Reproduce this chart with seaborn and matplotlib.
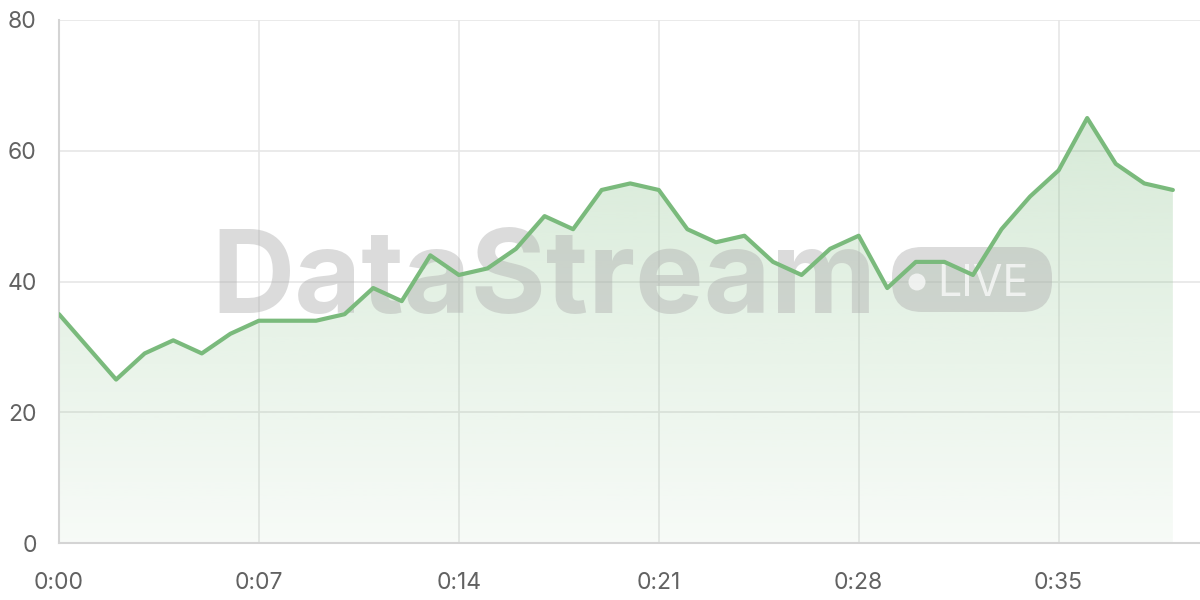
import numpy as np
import pandas as pd
import matplotlib
matplotlib.use("Agg")
import matplotlib.pyplot as plt
import seaborn as sns
from matplotlib.patches import FancyBboxPatch, Circle
from matplotlib.colors import to_rgb
from matplotlib.transforms import Affine2D

# данные: одна точка в минуту
minutes = list(range(40))
values = [35, 30, 25, 29, 31, 29, 32, 34, 34, 34,
          35, 39, 37, 44, 41, 42, 45, 50, 48, 54,
          55, 54, 48, 46, 47, 43, 41, 45, 47, 39,
          43, 43, 41, 48, 53, 57, 65, 58, 55, 54]
tick_pos = [0, 7, 14, 21, 28, 35]
tick_labels = ["0:00", "0:07", "0:14", "0:21", "0:28", "0:35"]
y_ticks = [0, 20, 40, 60, 80]

df = pd.DataFrame({"minute": minutes, "value": values})

sns.set_style("white")
plt.rcParams["font.family"] = ["Inter", "DejaVu Sans"]

line_color = "#7aba7c"
grid_color = "#e6e6e6"
text_color = "#626262"

fig = plt.figure(figsize=(12, 6), dpi=100)
ax = fig.add_axes([59 / 1200, 1 - 543 / 600, 1 - 59 / 1200, 523 / 600])

ax.set_xlim(0, 39.95)
ax.set_ylim(0, 80)

# градиентная заливка под линией
r, g, b = to_rgb(line_color)
grad = np.zeros((256, 1, 4))
grad[:, 0, 0] = r
grad[:, 0, 1] = g
grad[:, 0, 2] = b
grad[:, 0, 3] = np.linspace(0.06, 0.30, 256)
top = max(values)
img = ax.imshow(grad, aspect="auto", origin="lower",
                extent=[0, minutes[-1], 0, top], zorder=1)
poly = ax.fill_between(df["minute"], df["value"], 0, color="none", lw=0)
clip = poly.get_paths()[0]
img.set_clip_path(clip, transform=ax.transData)

sns.lineplot(data=df, x="minute", y="value", ax=ax, color=line_color,
             linewidth=3, zorder=3)

# сетка
ax.set_xticks(tick_pos)
ax.set_xticklabels(tick_labels)
ax.set_yticks(y_ticks)
ax.grid(True, color=grid_color, linewidth=1.2, zorder=0)
ax.set_axisbelow(True)
ax.tick_params(axis="both", length=11, width=1.2, color=grid_color,
               labelcolor=text_color, labelsize=16.5, pad=5)
ax.tick_params(axis="x", pad=10)
for s in ["top", "right"]:
    ax.spines[s].set_visible(False)
for s in ["left", "bottom"]:
    ax.spines[s].set_color("#d4d4d4")
    ax.spines[s].set_linewidth(1.5)
ax.set_xlabel("")
ax.set_ylabel("")

# водяной знак: координаты в пикселях картинки, между заливкой и линией
px = Affine2D().scale(1 / 1200, -1 / 600).translate(0, 1) + fig.transFigure
ax.text(211, 313, "DataStream", fontsize=83, fontweight="bold",
        color="#b0b0b0", alpha=0.45, ha="left", va="baseline",
        transform=px, zorder=2, clip_on=False)
ax.add_patch(FancyBboxPatch((892, 247), 160, 65,
                            boxstyle="round,pad=0,rounding_size=30",
                            facecolor="#b0b0b0", alpha=0.45,
                            edgecolor="none", transform=px, zorder=2,
                            clip_on=False))
ax.add_patch(Circle((917, 282), 8.5, facecolor="white", alpha=0.7,
                    edgecolor="none", transform=px, zorder=2.1,
                    clip_on=False))
ax.text(937, 296, "LIVE", fontsize=31, color="white", alpha=0.7,
        ha="left", va="baseline", transform=px, zorder=2.1, clip_on=False)

fig.savefig("out.png", dpi=100)
